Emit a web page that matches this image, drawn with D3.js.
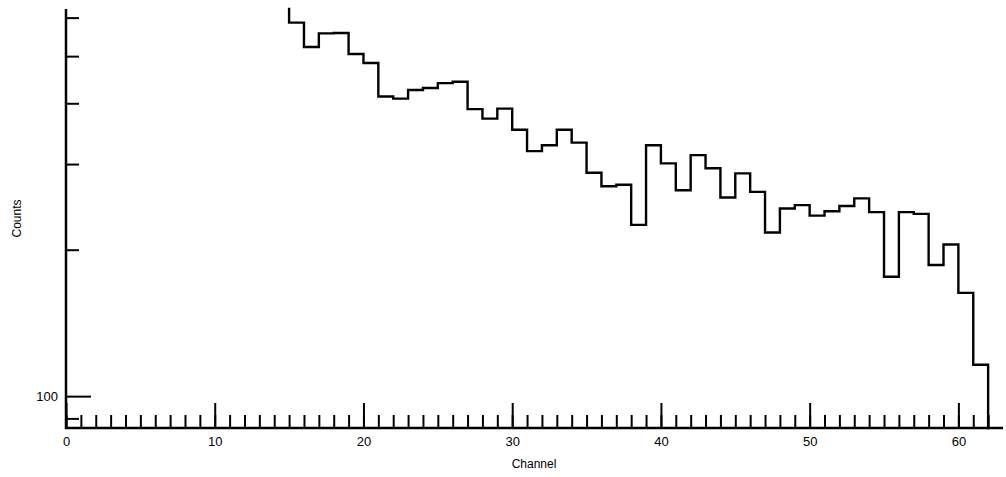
<!DOCTYPE html>
<html>
<head>
<meta charset="utf-8">
<script src="https://cdn.jsdelivr.net/npm/d3@7"></script>
<style>
  html, body { margin: 0; padding: 0; background: #fff; }
  svg { display: block; }
  text { font-family: "Liberation Sans", Arial, Helvetica, sans-serif; fill: #000; }
</style>
</head>
<body>
<svg id="chart" width="1006" height="477"></svg>
<script>
// Data
const firstChannel = 15;
const counts = [586, 522, 557, 558, 505, 484, 413, 409, 426, 430,
                440, 443, 389, 372, 390, 353, 319, 328, 353, 332,
                288, 270, 272, 225, 328, 301, 265, 313, 294, 256,
                287, 263, 217, 243, 247, 235, 240, 246, 255, 239,
                176, 239, 237, 186, 205, 163, 116];
const xMajorTicks = [0, 10, 20, 30, 40, 50, 60];
const xMinorTicks = d3.range(0, 63);
const yMajorTicks = [100];
const yMinorTicks = [90, 200, 300, 400, 500, 600];

const W = 1006, H = 477;
const margin = {left: 66, right: 3, top: 9, bottom: 49};
const svg = d3.select("#chart");

const x = d3.scaleLinear().domain([0, 63]).range([margin.left, W - margin.right]);
const y = d3.scaleLog().domain([86, 625]).range([H - margin.bottom, margin.top]);

// Histogram step path
const pts = [[x(firstChannel), y(y.domain()[1])]];
counts.forEach((v, i) => {
  const c = firstChannel + i;
  pts.push([x(c), y(v)]);
  pts.push([x(c + 1), y(v)]);
});
pts.push([x(firstChannel + counts.length), y(y.domain()[0])]);

svg.append("path")
  .attr("d", d3.line()(pts))
  .attr("fill", "none")
  .attr("stroke", "#000")
  .attr("stroke-width", 2.4)
  .attr("stroke-linejoin", "miter")
  .attr("stroke-linecap", "square");

// X axis
const xAxisG = svg.append("g").attr("transform", `translate(0,${y.range()[0]})`);
xAxisG.append("g")
  .call(d3.axisTop(x).tickValues(xMinorTicks).tickSize(13).tickFormat(""))
  .call(g => g.select(".domain").remove())
  .call(g => g.selectAll("line").attr("stroke-width", 2));
xAxisG.append("g")
  .call(d3.axisTop(x).tickValues(xMajorTicks).tickSize(25).tickFormat(""))
  .call(g => g.select(".domain").remove())
  .call(g => g.selectAll("line").attr("stroke-width", 2));
xAxisG.append("g")
  .call(d3.axisBottom(x).tickValues(xMajorTicks).tickSize(0).tickPadding(9).tickFormat(d3.format("d")))
  .call(g => g.select(".domain").remove())
  .call(g => g.selectAll("text").attr("font-size", 13).style("font-family", "'Liberation Sans', Arial, sans-serif"));
xAxisG.append("line")
  .attr("x1", x.range()[0] - 1).attr("x2", x.range()[1])
  .attr("y1", 0).attr("y2", 0)
  .attr("stroke", "#000").attr("stroke-width", 2.5);

// Y axis
const yAxisG = svg.append("g").attr("transform", `translate(${x.range()[0]},0)`);
yAxisG.append("g")
  .call(d3.axisRight(y).tickValues(yMinorTicks).tickSize(13).tickFormat(""))
  .call(g => g.select(".domain").remove())
  .call(g => g.selectAll("line").attr("stroke-width", 2));
yAxisG.append("g")
  .call(d3.axisRight(y).tickValues(yMajorTicks).tickSize(25).tickFormat(""))
  .call(g => g.select(".domain").remove())
  .call(g => g.selectAll("line").attr("stroke-width", 2));
yAxisG.append("g")
  .call(d3.axisLeft(y).tickValues(yMajorTicks).tickSize(0).tickPadding(8).tickFormat(d3.format("d")))
  .call(g => g.select(".domain").remove())
  .call(g => g.selectAll("text").attr("font-size", 13).style("font-family", "'Liberation Sans', Arial, sans-serif"));
yAxisG.append("line")
  .attr("x1", 0).attr("x2", 0)
  .attr("y1", y.range()[1]).attr("y2", y.range()[0] + 1)
  .attr("stroke", "#000").attr("stroke-width", 2.5);

// Axis titles
svg.append("text")
  .attr("x", 534).attr("y", 468)
  .attr("text-anchor", "middle")
  .attr("font-size", 12)
  .text("Channel");
svg.append("text")
  .attr("transform", `translate(21,${(y.range()[0] + y.range()[1]) / 2}) rotate(-90)`)
  .attr("text-anchor", "middle")
  .attr("font-size", 12)
  .text("Counts");
</script>
</body>
</html>
